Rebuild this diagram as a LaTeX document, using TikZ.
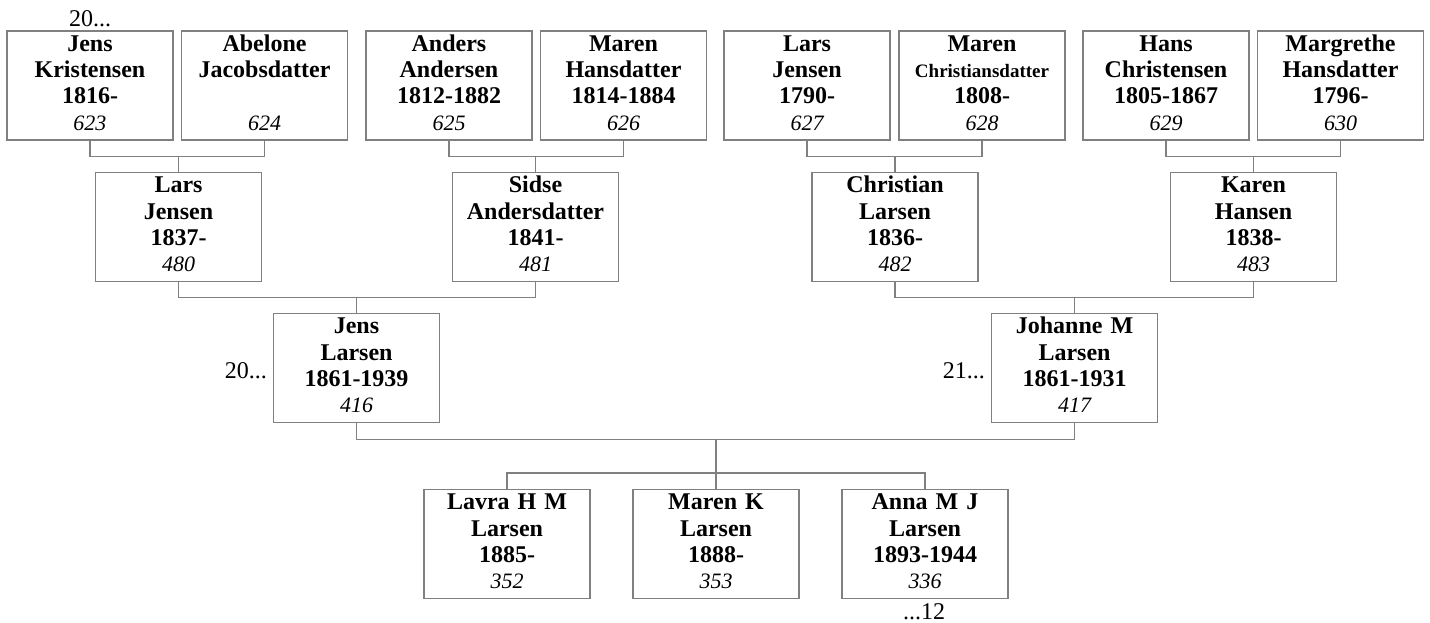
\documentclass[tikz,border=0pt]{standalone}
\usepackage{fontspec}
\setmainfont{Liberation Serif}
\usetikzlibrary{positioning}
\definecolor{linegray}{RGB}{128,128,128}
\newcommand{\pers}[4]{\textbf{#1}\strut\\\textbf{#2}\strut\\\textbf{#3}\strut\\{\fontsize{22}{26.3}\selectfont\itshape #4}\strut}
\tikzstyle{person} = [draw=linegray, line width=1.2pt, rectangle, text width=162pt, inner xsep=2pt, inner ysep=0pt, minimum height=109pt, align=center, font=\fontsize{24}{26.3}\selectfont]
\tikzstyle{link} = [draw=linegray, line width=1.2pt]
\tikzstyle{more} = [inner sep=0pt, font=\fontsize{24}{26.3}\selectfont]
\begin{document}
\begin{tikzpicture}[x=1pt, y=-1pt]
  \useasboundingbox (0,0) rectangle (1430,623);
  \node [person] (jk) at (90,85.5) {\pers{Jens}{Kristensen}{1816-}{623}};
  \node [person] (aj) at (264.5,85.5) {\pers{Abelone}{Jacobsdatter}{}{624}};
  \node [person] (aa) at (449,85.5) {\pers{Anders}{Andersen}{1812-1882}{625}};
  \node [person] (mh) at (623.5,85.5) {\pers{Maren}{Hansdatter}{1814-1884}{626}};
  \node [person] (lj) at (807,85.5) {\pers{Lars}{Jensen}{1790-}{627}};
  \node [person] (mc) at (982,85.5) {\pers{Maren}{{\fontsize{19}{26.3}\selectfont Christiansdatter}}{1808-}{628}};
  \node [person] (hc) at (1166,85.5) {\pers{Hans}{Christensen}{1805-1867}{629}};
  \node [person] (mg) at (1340.5,85.5) {\pers{Margrethe}{Hansdatter}{1796-}{630}};
  \node [person] (lars) at (178.5,227) {\pers{Lars}{Jensen}{1837-}{480}};
  \node [person] (sidse) at (535.5,227) {\pers{Sidse}{Andersdatter}{1841-}{481}};
  \node [person] (chr) at (895,227) {\pers{Christian}{Larsen}{1836-}{482}};
  \node [person] (karen) at (1253.5,227) {\pers{Karen}{Hansen}{1838-}{483}};
  \node [person] (jens) at (356.5,368) {\pers{Jens}{Larsen}{1861-1939}{416}};
  \node [person] (johanne) at (1074.5,368) {\pers{Johanne M}{Larsen}{1861-1931}{417}};
  \node [person] (lavra) at (507,544) {\pers{Lavra H M}{Larsen}{1885-}{352}};
  \node [person] (marenk) at (716,544) {\pers{Maren K}{Larsen}{1888-}{353}};
  \node [person] (anna) at (925,544) {\pers{Anna M J}{Larsen}{1893-1944}{336}};
  \node [more, anchor=base] at (90,27) {20...};
  \node [more, anchor=base east] at (267,378) {20...};
  \node [more, anchor=base east] at (985,378) {21...};
  \node [more, anchor=base] at (924,619) {...12};
  \draw [link] (jk.south) -- ++(0,16) -| (aj.south);
  \draw [link] (lars.north) -- ++(0,-16);
  \draw [link] (aa.south) -- ++(0,16) -| (mh.south);
  \draw [link] (sidse.north) -- ++(0,-16);
  \draw [link] (lj.south) -- ++(0,16) -| (mc.south);
  \draw [link] (chr.north) -- ++(0,-16);
  \draw [link] (hc.south) -- ++(0,16) -| (mg.south);
  \draw [link] (karen.north) -- ++(0,-16);
  \draw [link] (lars.south) -- ++(0,15) -| (sidse.south);
  \draw [link] (jens.north) -- ++(0,-16);
  \draw [link] (chr.south) -- ++(0,15) -| (karen.south);
  \draw [link] (johanne.north) -- ++(0,-16);
  \draw [link] (jens.south) -- ++(0,16) -| (johanne.south);
  \draw [link] (marenk.north) -- ++(0,-50);
  \draw [link] (lavra.north) -- ++(0,-16) -| (anna.north);
\end{tikzpicture}
\end{document}
